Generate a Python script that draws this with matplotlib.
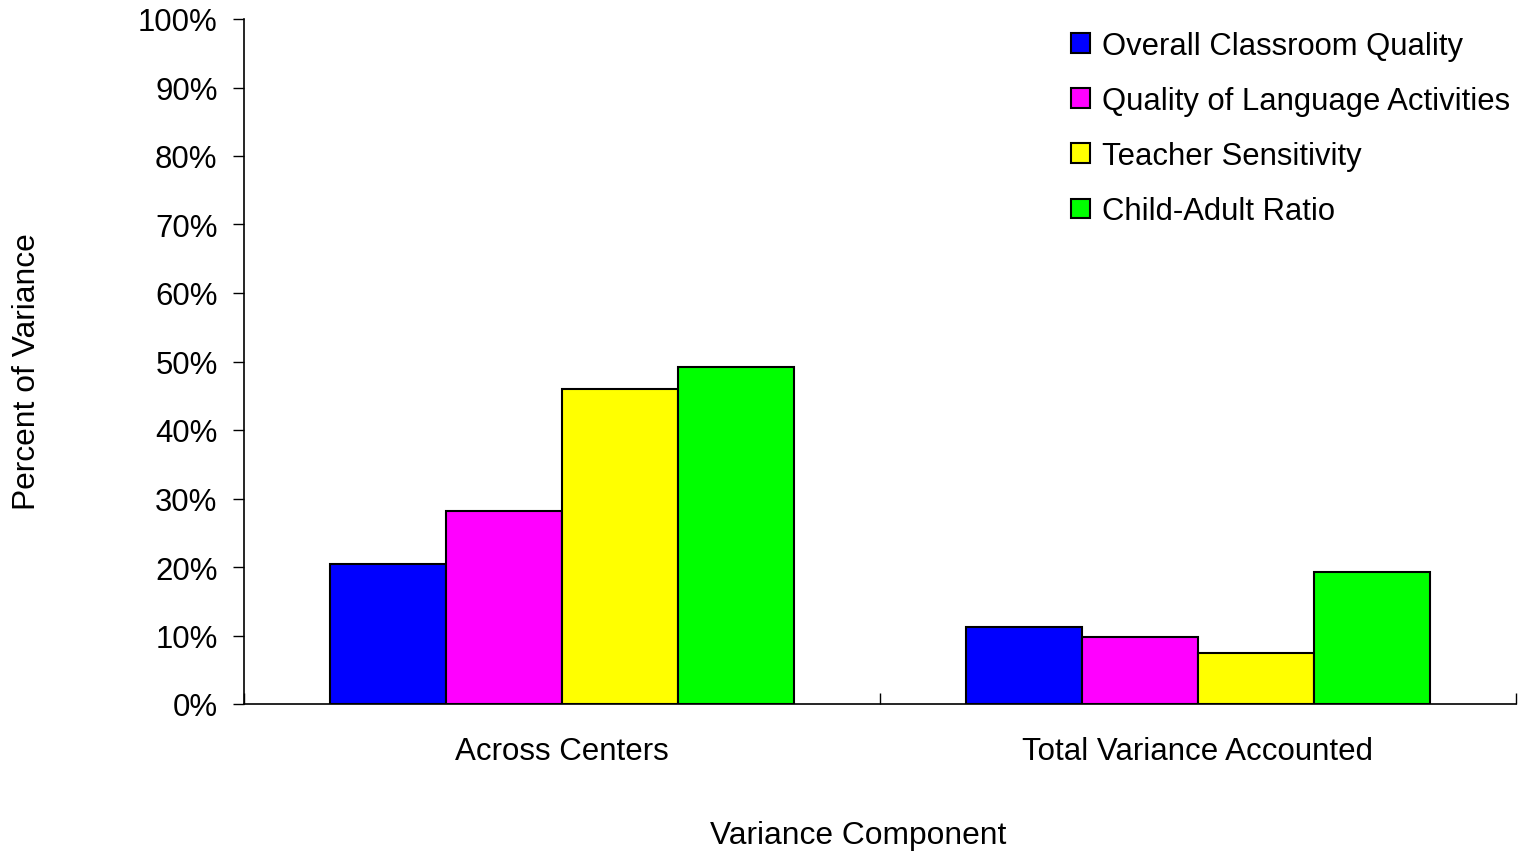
import numpy as np
import matplotlib
matplotlib.use("Agg")
import matplotlib.pyplot as plt
from matplotlib.ticker import FixedLocator, PercentFormatter

# Data
categories = ["Across Centers", "Total Variance Accounted"]
series_names = ["Overall Classroom Quality", "Quality of Language Activities",
                "Teacher Sensitivity", "Child-Adult Ratio"]
overall_quality = [20.4, 11.3]
language_quality = [28.2, 9.8]
teacher_sensitivity = [46.0, 7.4]
child_adult_ratio = [49.2, 19.3]
colors = ["#0000FF", "#FF00FF", "#FFFF00", "#00FF00"]

plt.rcParams["font.family"] = ["Liberation Sans", "DejaVu Sans"]

fig = plt.figure(figsize=(15.22, 8.54), dpi=100)
ax = fig.add_axes([244 / 1522, 1 - 705 / 854, 1272 / 1522, 685 / 854])

x = np.arange(len(categories))
width = 0.1824
all_series = [overall_quality, language_quality, teacher_sensitivity, child_adult_ratio]
for i, (vals, name, col) in enumerate(zip(all_series, series_names, colors)):
    ax.bar(x + (i - 1.5) * width, vals, width, color=col, edgecolor="black",
           linewidth=1.5, label=name, zorder=3)

ax.set_xlim(-0.5, len(categories) - 0.5)
ax.set_ylim(0, 100)
ax.yaxis.set_major_locator(FixedLocator(np.arange(0, 101, 10)))
ax.yaxis.set_major_formatter(PercentFormatter(decimals=0))
ax.tick_params(axis="y", direction="out", length=8, width=1, labelsize=22.4, pad=11)

ax.set_xticks(x)
ax.set_xticklabels(categories)
ax.tick_params(axis="x", which="major", length=0, labelsize=22.5, pad=23)
ax.set_xticks(np.arange(-0.5, len(categories), 1.0), minor=True)
ax.tick_params(axis="x", which="minor", direction="in", length=8, width=1)

for side in ["top", "right"]:
    ax.spines[side].set_visible(False)
ax.spines["left"].set_linewidth(1.2)
ax.spines["bottom"].set_linewidth(1.2)

fig.text(27 / 1522, 1 - 372 / 854, "Percent of Variance", rotation=90,
         ha="center", va="center", fontsize=22.9)
fig.text(858 / 1522, 1 - 836 / 854, "Variance Component",
         ha="center", va="center", fontsize=22.9)

ax.legend(loc="upper left", bbox_to_anchor=(1071 / 1522, 1 - 32 / 854),
          bbox_transform=fig.transFigure, frameon=False, fontsize=22.3,
          handlelength=0.6, handleheight=0.6, handletextpad=0.4,
          labelspacing=0.81, borderaxespad=0, borderpad=0)

fig.savefig("out.png", dpi=100)
